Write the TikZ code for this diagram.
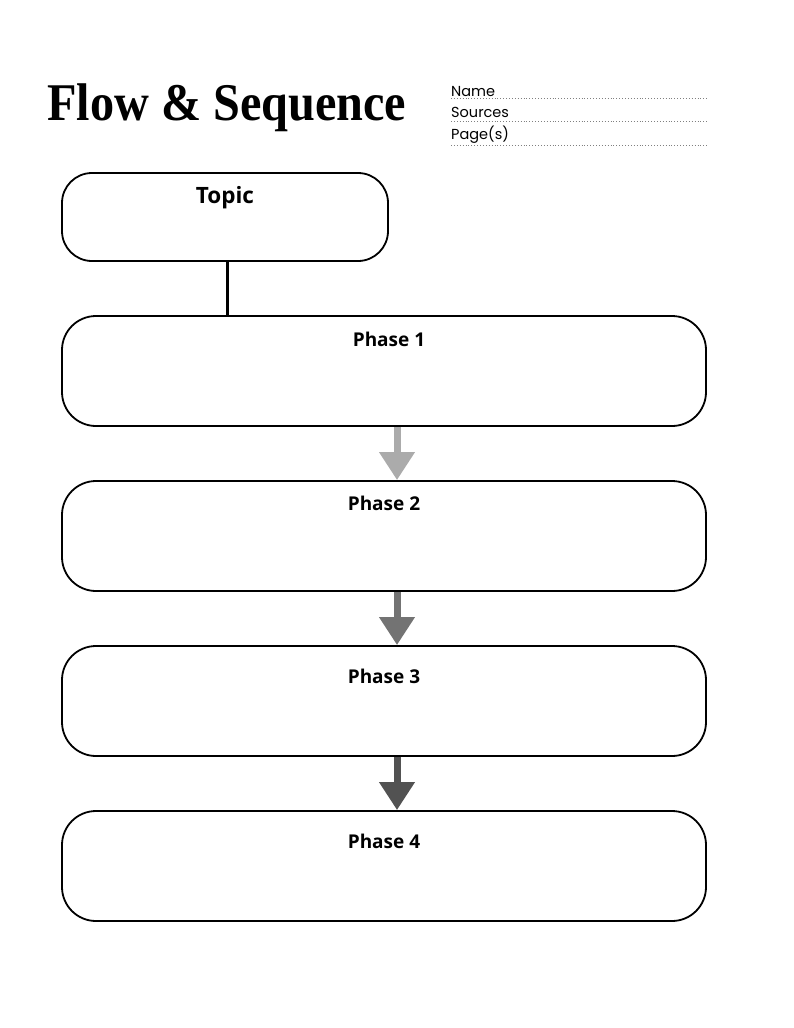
\documentclass[tikz,border=0pt]{standalone}
\usepackage{fontspec}
\setmainfont{Open Sans}
\newfontfamily\titlefont{Liberation Serif}
\newfontfamily\fieldfont{Poppins}
\usetikzlibrary{calc,arrows.meta}

\tikzset{
	box/.style={draw,line width=1.8pt,rounded corners=34pt},
	boxlabel/.style={font=\fontsize{19}{21}\selectfont\bfseries},
	field/.style={anchor=base west,inner sep=0pt,font=\fieldfont\fontsize{14.5}{16}\selectfont},
	dotline/.style={gray,dotted,line width=0.9pt},
	flowarrow/.style={line width=7pt,-{Triangle[width=34pt,length=28pt]}}
}

\begin{document}
\begin{tikzpicture}[x=1pt,y=-1pt]
	\useasboundingbox (0,0) rectangle (794,1028);
	% title and fields
	\node[anchor=base west,inner sep=0pt,font=\titlefont\fontsize{53}{56}\selectfont\bfseries] (title) at (47,120) {\scalebox{0.91}[1]{Flow \& Sequence}};
	\node[field] (name) at (451,96) {Name};
	\node[field] (sources) at (451,117) {Sources};
	\node[field] (pages) at (451,139) {Page(s)};
	\foreach \y in {98,121,145} {
		\draw[dotline] (451,\y) -- (707,\y);
	}
	% topic
	\node[box,minimum width=326pt,minimum height=88pt,rounded corners=30pt] (topic) at (225,217) {};
	\node[boxlabel,font=\fontsize{22.5}{24}\selectfont\bfseries] (topiclabel) at (225,198) {Topic};
	% phases
	\foreach \i/\y/\dy/\dx in {1/371/24/5,2/536/23/0,3/701/31/0,4/866/31/0} {
		\node[box,minimum width=644pt,minimum height=110pt] (phase\i) at (384,\y) {};
		\node[boxlabel] (label\i) at ($(phase\i.north)+(\dx,\dy)$) {Phase \i};
	}
	\coordinate (tx) at (227,0);
	\coordinate (ax) at (397,0);
	\draw[line width=3pt] (topic.south -| tx) -- (phase1.north -| tx);
	\foreach \a/\b/\c in {1/2/black!33,2/3/black!55,3/4/black!68} {
		\draw[flowarrow,\c] (phase\a.south -| ax) -- (phase\b.north -| ax);
	}
\end{tikzpicture}
\end{document}
